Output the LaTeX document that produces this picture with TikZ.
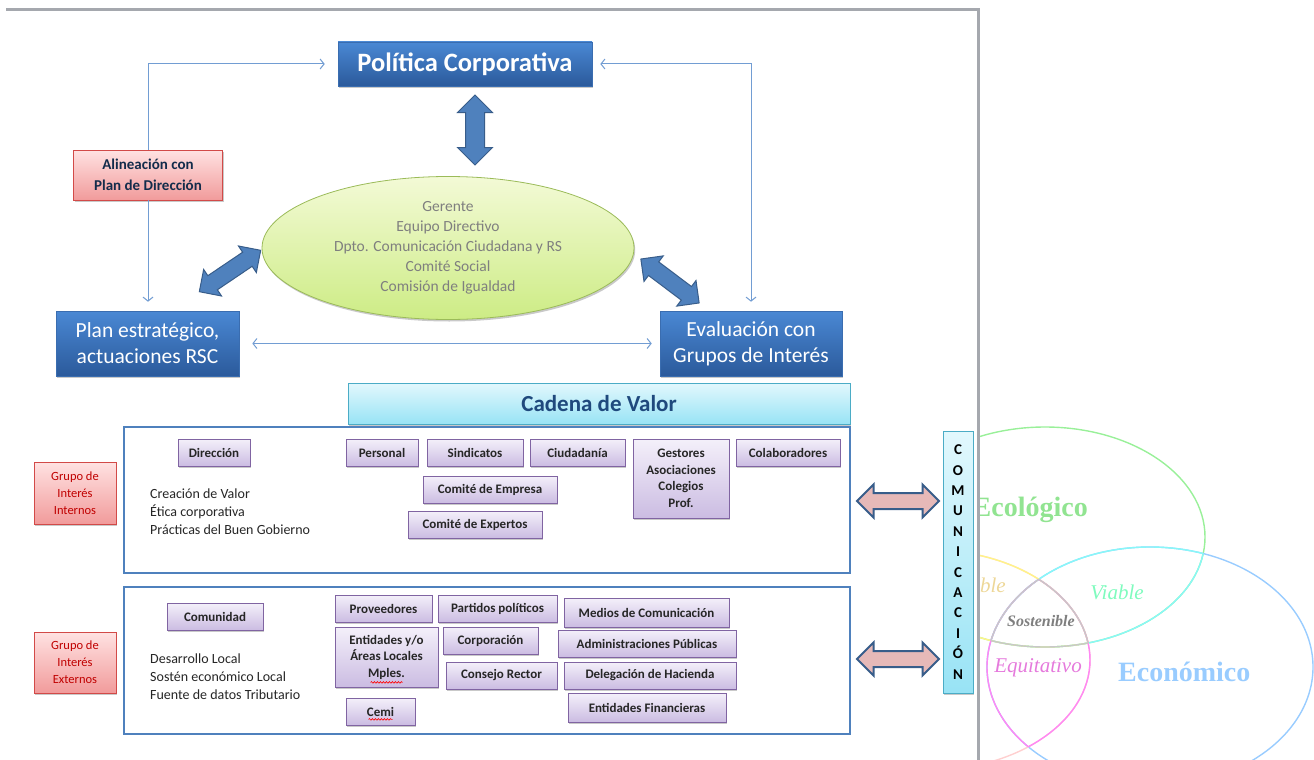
\documentclass[tikz,border=0pt]{standalone}
\usepackage{fontspec}
\setmainfont{Carlito}
\newfontfamily\serifVenn{Liberation Serif}
\usepackage{xcolor}
\definecolor{azulClaro}{HTML}{4A88D4}
\definecolor{azulOscuro}{HTML}{2B5A9B}
\definecolor{azulBorde}{HTML}{3A6DB0}
\definecolor{azulFlecha}{HTML}{4F81BD}
\definecolor{azulFlechaBorde}{HTML}{385D8A}
\definecolor{azulFino}{HTML}{729DD3}
\definecolor{azulMarco}{HTML}{4F81BD}
\definecolor{azulTexto}{HTML}{1F497D}
\definecolor{lilaClaro}{HTML}{F4F0FA}
\definecolor{lilaOscuro}{HTML}{CBBCE2}
\definecolor{lilaBorde}{HTML}{8064A2}
\definecolor{rosaClaro}{HTML}{FFE2E2}
\definecolor{rosaOscuro}{HTML}{F19B9B}
\definecolor{rosaBorde}{HTML}{D24A48}
\definecolor{rosaFlecha}{HTML}{E6B9B8}
\definecolor{rojoTexto}{HTML}{C00000}
\definecolor{cianClaro}{HTML}{E2F8FD}
\definecolor{cianOscuro}{HTML}{98E3F5}
\definecolor{cianBorde}{HTML}{4BACC6}
\definecolor{verdeClaro}{HTML}{F3FAD6}
\definecolor{verdeOscuro}{HTML}{CDEC85}
\definecolor{verdeBorde}{HTML}{9BBB59}
\definecolor{grisTexto}{HTML}{7F7F7F}
\definecolor{grisMarco}{HTML}{A5A8AE}
\definecolor{vennVerde}{HTML}{99F099}
\definecolor{vennAzul}{HTML}{99CCFF}
\definecolor{vennRosa}{HTML}{FFD0D0}
\definecolor{vennCian}{HTML}{88F8F8}
\definecolor{vennAmarillo}{HTML}{FFF488}
\definecolor{vennMagenta}{HTML}{FF88F4}
\definecolor{vennGris}{HTML}{C8C8C8}
\usepackage{tikz}
\usetikzlibrary{arrows.meta, calc, shapes.geometric, shapes.arrows, shadows,
                decorations.pathmorphing}
\newcommand{\elEcol}{(cEcol) ellipse [x radius=160pt, y radius=110pt]}
\newcommand{\elEcon}{(cEcon) ellipse [x radius=163pt, y radius=120pt]}
\newcommand{\elSoc}{(cSoc) ellipse [x radius=160pt, y radius=110pt]}
\tikzset{
  %% ── Cajas ────────────────────────────────────────────────────────────
  sombra/.style     = {drop shadow={shadow xshift=1.2pt, shadow yshift=-2pt,
                       opacity=.35, fill=black!60}},
  cajaAzul/.style   = {draw=azulBorde, line width=0.6pt, top color=azulClaro,
                       bottom color=azulOscuro, text=white, align=center,
                       inner sep=3pt, sombra},
  cajaRosa/.style   = {draw=rosaBorde, line width=0.8pt, top color=rosaClaro,
                       bottom color=rosaOscuro, align=center, inner sep=2pt,
                       sombra},
  cajaLila/.style   = {draw=lilaBorde, line width=0.8pt, top color=lilaClaro,
                       bottom color=lilaOscuro, text=black!85, align=center,
                       inner sep=2pt, minimum height=27pt, sombra,
                       font=\fontsize{13}{16.5}\selectfont\bfseries},
  cajaCian/.style   = {draw=cianBorde, line width=0.8pt, top color=cianClaro,
                       bottom color=cianOscuro, align=center, inner sep=2pt,
                       sombra},
  nucleo/.style     = {ellipse, draw=verdeBorde, line width=0.8pt,
                       top color=verdeClaro, bottom color=verdeOscuro,
                       text=grisTexto, align=center, inner sep=0pt, sombra,
                       font=\fontsize{15.5}{20}\selectfont},
  marco/.style      = {draw=azulMarco, line width=1.6pt, fill=white,
                       inner sep=0pt},
  %%
  %% ── Flechas ──────────────────────────────────────────────────────────
  %% the shaft is as thick as twice the inner sep, the head adds the extend
  flecha/.style     = {-{Straight Barb[length=4pt, width=10pt]}, draw=azulFino,
                       line width=1pt},
  flechaBloque/.style = {double arrow, draw=azulFlechaBorde, fill=azulFlecha,
                       line width=1pt, double arrow head extend=8pt,
                       double arrow tip angle=90, inner sep=9pt},
  flechaRosa/.style = {double arrow, draw=azulFlechaBorde, fill=rosaFlecha,
                       line width=2pt, double arrow head extend=8.5pt,
                       double arrow tip angle=90, inner sep=7pt,
                       minimum height=82pt},
  %%
  %% ── Texto ────────────────────────────────────────────────────────────
  texto/.style      = {align=left, inner sep=3pt, text=black!85,
                       font=\fontsize{14}{18}\selectfont},
  grupo/.style      = {text=rojoTexto, font=\fontsize{12.5}{17}\selectfont},
  venn/.style       = {inner sep=0pt},
  subrayado/.style  = {draw=red, line width=0.6pt, decorate,
                       decoration={snake, amplitude=0.8pt, segment length=3pt}},
}

\begin{document}
\begin{tikzpicture}[x=1pt, y=-1pt]
\useasboundingbox (0,0) rectangle (1314,760);

%% Venn of the three dimensions, half hidden behind the sheet
\coordinate (cEcol) at (1045,537);
\coordinate (cEcon) at (1150,667);
\coordinate (cSoc)  at (930,660);
\begin{scope}[line width=1.4pt]
  \draw[vennVerde] \elEcol;
  \draw[vennAzul] \elEcon;
  \draw[vennRosa] \elSoc;
  \begin{scope}
    \clip \elEcol;
    \draw[vennCian] \elEcon;
    \draw[vennAmarillo] \elSoc;
  \end{scope}
  \begin{scope}
    \clip \elEcon;
    \draw[vennCian] \elEcol;
    \draw[vennMagenta] \elSoc;
  \end{scope}
  \begin{scope}
    \clip \elSoc;
    \draw[vennAmarillo] \elEcol;
    \draw[vennMagenta] \elEcon;
  \end{scope}
  \begin{scope}
    \clip \elEcol; \clip \elEcon;
    \draw[vennGris] \elSoc;
  \end{scope}
  \begin{scope}
    \clip \elEcol; \clip \elSoc;
    \draw[vennGris] \elEcon;
  \end{scope}
  \begin{scope}
    \clip \elEcon; \clip \elSoc;
    \draw[vennGris] \elEcol;
  \end{scope}
\end{scope}
\node[venn, anchor=east, text=vennVerde!95!black,
      font=\serifVenn\fontsize{28}{30}\selectfont\bfseries] (tEcol) at (1088,510) {Ecológico};
\node[venn, anchor=west, text=vennAzul,
      font=\serifVenn\fontsize{28}{30}\selectfont\bfseries] (tEcon) at (1118,672) {Económico};
\node[venn, text=vennCian!70!green!80,
      font=\serifVenn\fontsize{21}{24}\selectfont\itshape] (tVia) at (1117,592) {Viable};
\node[venn, text=vennMagenta!90!black,
      font=\serifVenn\fontsize{21}{24}\selectfont\itshape] (tEqu) at (1038,668) {Equitativo};
\node[venn, text=grisTexto,
      font=\serifVenn\fontsize{16}{18}\selectfont\bfseries\itshape] (tSos) at (1041,621) {Sostenible};
\node[venn, anchor=east, text=vennAmarillo!60!brown!70,
      font=\serifVenn\fontsize{21}{24}\selectfont\itshape] (tSop) at (1006,585) {ble};

%% the sheet
\fill[white] (0,0) rectangle (978,760);
\draw[grisMarco, line width=3pt] (6,10) -- (978,10) -- (978,760);

%% upper cycle
\node[cajaAzul, minimum width=254pt, minimum height=44pt,
      font=\fontsize{26.5}{28}\selectfont\bfseries] (pol) at (465,64)
     {Política Corporativa};
\node[cajaAzul, minimum width=183pt, minimum height=65pt,
      font=\fontsize{21.5}{26}\selectfont] (plan) at (147.5,343.5)
     {Plan estratégico,\\actuaciones RSC};
\node[cajaAzul, minimum width=182pt, minimum height=65pt,
      font=\fontsize{21.5}{26}\selectfont] (eval) at (751,343.5)
     {Evaluación con\\Grupos de Interés};
\node[cajaRosa, minimum width=149pt, minimum height=50pt, text=azulTexto!60!black,
      font=\fontsize{15}{21}\selectfont\bfseries] (alin) at (148,175)
     {Alineación con\\Plan de Dirección};
\node[nucleo, minimum width=372pt, minimum height=143pt] (nuc) at (448,248)
     {Gerente\\Equipo Directivo\\Dpto. Comunicación Ciudadana y RS\\Comité Social\\Comisión de Igualdad};

\node[flechaBloque, rotate=90, minimum height=70pt] (fPol) at (475,130) {};
\node[flechaBloque, rotate=34, minimum height=74pt, inner sep=8pt,
      double arrow head extend=7.5pt] (fPlan) at (230,271) {};
\node[flechaBloque, rotate=-37, minimum height=73pt, inner sep=8pt,
      double arrow head extend=7.5pt] (fEval) at (670,281) {};

\draw[flecha, shorten >=13pt] (alin.north) |- (pol.west);
\draw[flecha, shorten >=9pt] (alin.south) -- (alin.south |- plan.north);
\draw[flecha, {Straight Barb[length=4pt, width=10pt]}-{Straight Barb[length=4pt, width=10pt]},
      shorten <=8pt, shorten >=9pt] (pol.east) -| (eval.north);
\draw[flecha, {Straight Barb[length=4pt, width=10pt]}-{Straight Barb[length=4pt, width=10pt]},
      shorten <=13pt, shorten >=8pt] (plan.east) -- (eval.west);

%% value chain
\node[cajaCian, minimum width=502pt, minimum height=41pt, text=azulTexto,
      font=\fontsize{23}{26}\selectfont\bfseries] (cadena) at (599,403.5)
     {Cadena de Valor};
\node[marco, minimum width=726pt, minimum height=146pt] (gInt) at (487,500) {};
\node[marco, minimum width=726pt, minimum height=147pt] (gExt) at (487,660.5) {};

\node[cajaRosa, grupo, minimum width=82pt, minimum height=62pt] (etInt) at (75,493)
     {Grupo de\\Interés\\Internos};
\node[cajaRosa, grupo, minimum width=82pt, minimum height=61pt] (etExt) at (75,662.5)
     {Grupo de\\Interés\\Externos};

%% internal stakeholders
\node[cajaLila, minimum width=72pt] (dir) at (214,452.5) {Dirección};
\node[texto, anchor=west] (valInt) at (147,512)
     {Creación de Valor\\Ética corporativa\\Prácticas del Buen Gobierno};
\node[cajaLila, minimum width=72pt] (per) at (382,452.5) {Personal};
\node[cajaLila, minimum width=96pt] (sin) at (475,452.5) {Sindicatos};
\node[cajaLila, minimum width=95pt] (ciu) at (577.5,452.5) {Ciudadanía};
\node[cajaLila, minimum width=96pt, minimum height=79pt] (ges) at (681,478.5)
     {Gestores\\Asociaciones\\Colegios\\Prof.};
\node[cajaLila, minimum width=104pt] (col) at (788,452.5) {Colaboradores};
\node[cajaLila, minimum width=134pt] (cemp) at (490,489.5) {Comité de Empresa};
\node[cajaLila, minimum width=134pt] (cexp) at (475,524.5) {Comité de Expertos};

%% external stakeholders
\node[cajaLila, minimum width=96pt] (comu) at (215,616.5) {Comunidad};
\node[texto, anchor=west] (valExt) at (147,677)
     {Desarrollo Local\\Sostén económico Local\\Fuente de datos Tributario};
\node[cajaLila, minimum width=97pt] (prov) at (383.5,608.5) {Proveedores};
\node[cajaLila, minimum width=119pt] (part) at (497.5,608.5) {Partidos políticos};
\node[cajaLila, minimum width=165pt, minimum height=29pt] (med) at (646.5,612.5) {Medios de Comunicación};
\node[cajaLila, minimum width=103pt, minimum height=60pt] (ent) at (386.5,657)
     {Entidades y/o\\Áreas Locales\\Mples.};
\node[cajaLila, minimum width=95pt] (corp) at (490.5,640.5) {Corporación};
\node[cajaLila, minimum width=178pt] (adm) at (647,643.5) {Administraciones Públicas};
\node[cajaLila, minimum width=111pt] (cons) at (501.5,675.5) {Consejo Rector};
\node[cajaLila, minimum width=172pt] (del) at (650,675.5) {Delegación de Hacienda};
\node[cajaLila, minimum width=69pt] (cemi) at (380.5,711.5) {Cemi};
\node[cajaLila, minimum width=158pt, minimum height=29pt] (fin) at (647,707.5) {Entidades Financieras};

\draw[subrayado] ($(ent.south)+(-16,-5)$) -- ++(32,0);
\draw[subrayado] ($(cemi.south)+(-12,-6)$) -- ++(24,0);

%% communication
\node[cajaCian, minimum width=30pt, minimum height=262pt, text=black,
      font=\fontsize{15}{20.4}\selectfont\bfseries] (comm) at (958,562)
     {C\\O\\M\\U\\N\\I\\C\\A\\C\\I\\Ó\\N};
\node[flechaRosa] (fInt) at (898,501) {};
\node[flechaRosa] (fExt) at (898,659) {};

\end{tikzpicture}
\end{document}
